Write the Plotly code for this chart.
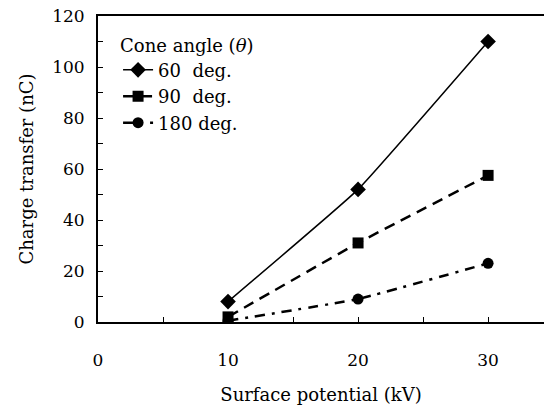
import plotly.graph_objects as go

voltage = [10, 20, 30]
q60 = [8, 52, 110]
q90 = [2, 31, 57.5]
q180 = [0.5, 9, 23]
names = ["60  deg.", "90  deg.", "180 deg."]

font = "DejaVu Serif, Liberation Serif, Times New Roman, serif"
fig = go.Figure()
fig.add_trace(go.Scatter(x=voltage, y=q60, name=names[0], mode="lines+markers",
                         line=dict(color="black", width=1.5, shape="spline", smoothing=0.3),
                         marker=dict(symbol="diamond", size=12, color="black")))
fig.add_trace(go.Scatter(x=voltage, y=q90, name=names[1], mode="lines+markers",
                         line=dict(color="black", width=2.5, dash="11px,7px", shape="spline", smoothing=0.3),
                         marker=dict(symbol="square", size=11, color="black")))
fig.add_trace(go.Scatter(x=voltage, y=q180, name=names[2], mode="lines+markers",
                         line=dict(color="black", width=2.5, dash="10px,7px,3px,7px", shape="spline", smoothing=0.3),
                         marker=dict(symbol="circle", size=11, color="black")))

fig.update_layout(
    width=544, height=405,
    margin=dict(l=98, r=0, t=16, b=83),
    paper_bgcolor="white", plot_bgcolor="white",
    font=dict(family=font, size=17, color="black"),
    showlegend=True,
    legend=dict(x=0.045, y=0.96, xanchor="left", yanchor="top",
                title=dict(text="Cone angle (<i>θ</i>)", font=dict(size=18)),
                bgcolor="rgba(0,0,0,0)", font=dict(size=18)),
    xaxis=dict(range=[0, 34.3], tickvals=[0, 10, 20, 30], ticks="inside", ticklen=5,
               tickcolor="black", showline=True, linecolor="black", linewidth=2,
               mirror=True, showgrid=False, zeroline=False, ticklabelstandoff=22,
               minor=dict(tickvals=[5, 15, 25], ticks="inside", ticklen=5, tickcolor="black"),
               title=dict(text="Surface potential (kV)", font=dict(size=18), standoff=22)),
    yaxis=dict(range=[0, 120], tickvals=[0, 20, 40, 60, 80, 100, 120], ticks="inside", ticklen=5,
               tickcolor="black", showline=True, linecolor="black", linewidth=2,
               showgrid=False, zeroline=False, ticklabelstandoff=8,
               minor=dict(tickvals=[10, 30, 50, 70, 90, 110], ticks="inside", ticklen=5, tickcolor="black"),
               title=dict(text="Charge transfer (nC)", font=dict(size=18), standoff=14)),
)
fig.write_html("out.html")
